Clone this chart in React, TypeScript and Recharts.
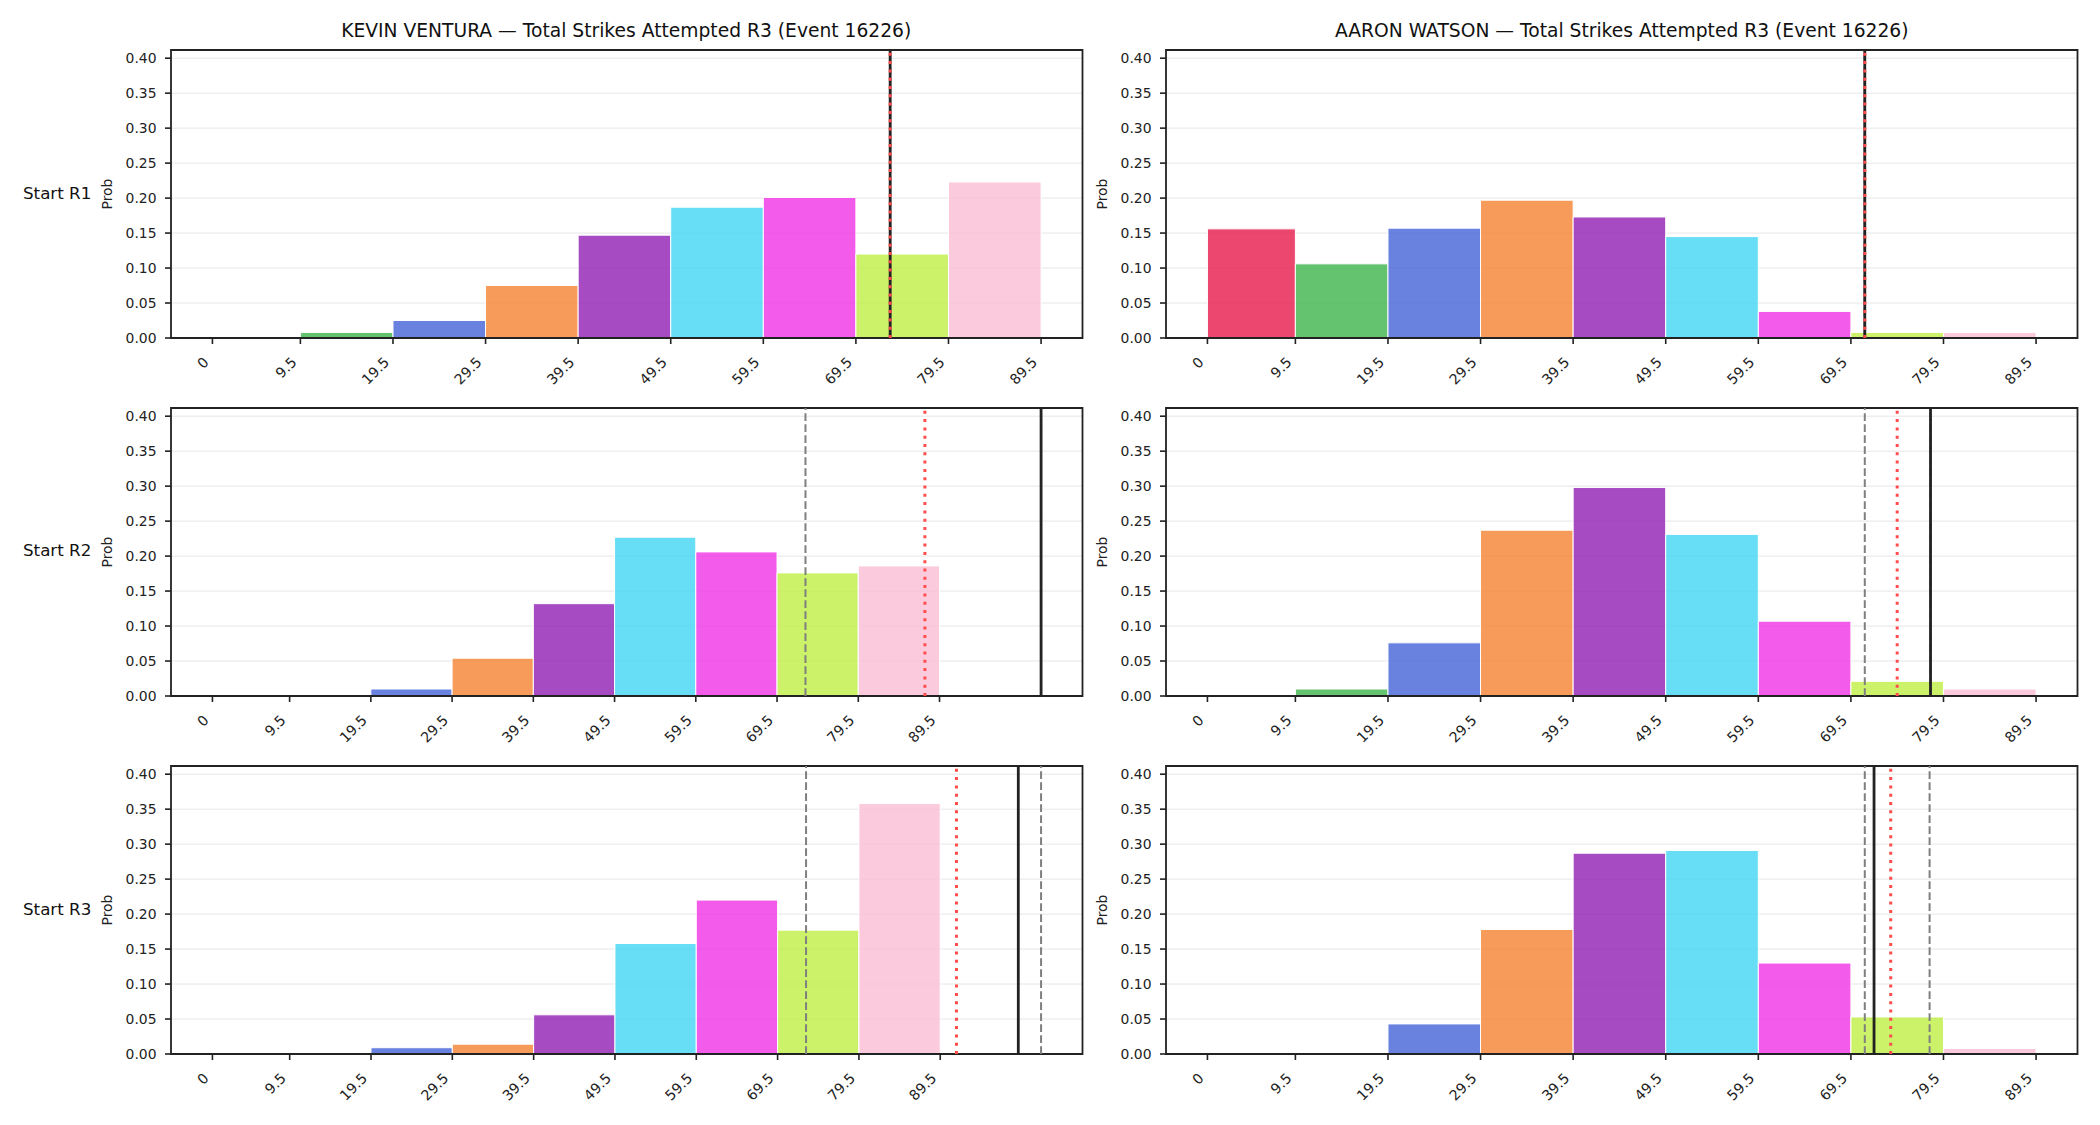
import {
  ComposedChart,
  XAxis,
  YAxis,
  CartesianGrid,
  ReferenceArea,
  ReferenceLine,
  Label,
} from 'recharts'

const FONT = '"DejaVu Sans", Verdana, sans-serif'
const INK = '#222222'

// histogram bins (strikes attempted) and their colours
const binEdges = [0, 9.5, 19.5, 29.5, 39.5, 49.5, 59.5, 69.5, 79.5, 89.5]
const binColors = [
  '#e6194b',
  '#3cb44b',
  '#4363d8',
  '#f58231',
  '#911eb4',
  '#42d4f4',
  '#f032e6',
  '#bfef45',
  '#fabed4',
]
const yTicks = [0, 0.05, 0.1, 0.15, 0.2, 0.25, 0.3, 0.35, 0.4]

const fighters = ['KEVIN VENTURA', 'AARON WATSON']
const startRounds = ['Start R1', 'Start R2', 'Start R3']

// probability per bin, one row per starting round
const venturaProbs = [
  [0, 0.008, 0.025, 0.075, 0.147, 0.187, 0.201, 0.12, 0.223],
  [0, 0, 0.01, 0.054, 0.132, 0.227, 0.206, 0.176, 0.186],
  [0, 0, 0.009, 0.014, 0.056, 0.158, 0.22, 0.177, 0.358],
]
const watsonProbs = [
  [0.156, 0.106, 0.157, 0.197, 0.173, 0.145, 0.038, 0.008, 0.008],
  [0, 0.01, 0.076, 0.237, 0.298, 0.231, 0.107, 0.021, 0.01],
  [0, 0, 0.043, 0.178, 0.287, 0.291, 0.13, 0.053, 0.008],
]

// marker lines: band low / high (dashed), projection (dotted), actual (solid)
const venturaLow = [73.2, 73.0, 73.0]
const venturaHigh = [73.2, 102.0, 101.9]
const venturaMean = [73.2, 87.7, 91.5]
const venturaActual = [73.2, 102.0, 99.1]
const watsonLow = [71.0, 71.0, 71.0]
const watsonHigh = [71.0, 78.1, 78.0]
const watsonMean = [71.0, 74.5, 73.8]
const watsonActual = [71.0, 78.1, 72.0]

const yMax = Math.max(...venturaProbs.flat(), ...watsonProbs.flat()) * 1.15

// layout of the 3x2 grid
const COL_X = [170.5, 1166]
const ROW_Y = [50, 407.5, 766.3]
const PLOT_W = 911.5
const PLOT_H = 288
const Y_AXIS_W = 100
const X_AXIS_H = 60
const PAD_T = 10
const PAD_R = 10

const fmtX = (v: number) => (v === 0 ? '0' : String(v))

const XTick = (props: any) => {
  const { x, y, payload } = props
  const px = x - 6.4
  const py = y + 15.5
  return (
    <text
      x={px}
      y={py}
      transform={`rotate(-45, ${px}, ${py})`}
      textAnchor="end"
      dominantBaseline="central"
      fontSize={14.2}
      fontFamily={FONT}
      fill={INK}>
      {fmtX(payload.value)}
    </text>
  )
}

const YTick = (props: any) => {
  const { x, y, payload } = props
  return (
    <text
      x={x - 8.5}
      y={y}
      textAnchor="end"
      dominantBaseline="central"
      fontSize={13.9}
      fontFamily={FONT}
      fill={INK}>
      {payload.value.toFixed(2)}
    </text>
  )
}

const ProbLabel = (props: any) => {
  const { viewBox } = props
  const cx = viewBox.x + viewBox.width - 64
  const cy = viewBox.y + viewBox.height / 2
  return (
    <text
      x={cx}
      y={cy}
      transform={`rotate(-90, ${cx}, ${cy})`}
      textAnchor="middle"
      dominantBaseline="central"
      fontSize={13.9}
      fontFamily={FONT}
      fill={INK}>
      Prob
    </text>
  )
}

type PanelProps = {
  probs: number[]
  low: number
  high: number
  mean: number
  actual: number
  left: number
  top: number
}

const Panel = ({ probs, low, high, mean, actual, left, top }: PanelProps) => {
  const xMax = Math.max(binEdges[binEdges.length - 1], low, high, mean, actual)
  const pad = xMax * 0.05
  const bins = probs.map((p, i) => ({
    x1: binEdges[i],
    x2: binEdges[i + 1],
    p,
    color: binColors[i],
  }))
  return (
    <div style={{ position: 'absolute', left: left - Y_AXIS_W, top: top - PAD_T }}>
      <ComposedChart
        width={Y_AXIS_W + PLOT_W + PAD_R}
        height={PAD_T + PLOT_H + X_AXIS_H}
        margin={{ top: PAD_T, right: PAD_R, bottom: 0, left: 0 }}
        data={bins}>
        <CartesianGrid vertical={false} stroke="#e6e6e6" strokeWidth={1} />
        <XAxis
          type="number"
          dataKey="x1"
          domain={[-pad, xMax + pad]}
          allowDataOverflow
          ticks={binEdges}
          interval={0}
          height={X_AXIS_H}
          axisLine={false}
          tickSize={6}
          tickMargin={0}
          tickLine={{ stroke: INK, strokeWidth: 1.6 }}
          tick={<XTick />}
        />
        <YAxis
          type="number"
          domain={[0, yMax]}
          allowDataOverflow
          ticks={yTicks}
          interval={0}
          width={Y_AXIS_W}
          axisLine={false}
          tickSize={6}
          tickMargin={0}
          tickLine={{ stroke: INK, strokeWidth: 1.6 }}
          tick={<YTick />}>
          <Label content={<ProbLabel />} />
        </YAxis>
        {bins
          .filter((b) => b.p > 0)
          .map((b) => (
            <ReferenceArea
              key={b.x1}
              x1={b.x1}
              x2={b.x2}
              y1={0}
              y2={b.p}
              fill={b.color}
              fillOpacity={0.8}
              stroke="#ffffff"
              strokeWidth={1}
              strokeOpacity={1}
            />
          ))}
        <ReferenceLine x={low} stroke="#7f7f7f" strokeWidth={2} strokeDasharray="7.7 3.3" />
        <ReferenceLine x={high} stroke="#7f7f7f" strokeWidth={2} strokeDasharray="7.7 3.3" />
        <ReferenceLine x={actual} stroke={INK} strokeWidth={2.8} />
        <ReferenceLine x={mean} stroke="#ff4d4d" strokeWidth={3} strokeDasharray="3 5.3" />
        {/* frame around the plot area */}
        <ReferenceArea
          x1={-pad}
          x2={xMax + pad}
          y1={0}
          y2={yMax}
          ifOverflow="visible"
          fill="none"
          fillOpacity={0}
          stroke={INK}
          strokeWidth={1.8}
          strokeOpacity={1}
        />
      </ComposedChart>
    </div>
  )
}

export default function App() {
  const sets = [
    { probs: venturaProbs, low: venturaLow, high: venturaHigh, mean: venturaMean, actual: venturaActual },
    { probs: watsonProbs, low: watsonLow, high: watsonHigh, mean: watsonMean, actual: watsonActual },
  ]
  return (
    <div
      style={{
        position: 'absolute',
        left: 0,
        top: 0,
        width: 2100,
        height: 1125,
        background: '#ffffff',
        overflow: 'hidden',
      }}>
      {sets.map((s, c) =>
        startRounds.map((_, r) => (
          <Panel
            key={`${c}-${r}`}
            probs={s.probs[r]}
            low={s.low[r]}
            high={s.high[r]}
            mean={s.mean[r]}
            actual={s.actual[r]}
            left={COL_X[c]}
            top={ROW_Y[r]}
          />
        ))
      )}
      <svg
        width={2100}
        height={1125}
        style={{ position: 'absolute', left: 0, top: 0, pointerEvents: 'none' }}>
        {fighters.map((name, c) => (
          <text
            key={name}
            x={COL_X[c] + PLOT_W / 2}
            y={37}
            textAnchor="middle"
            fontSize={18.7}
            fontFamily={FONT}
            fill="#111">
            {`${name} — Total Strikes Attempted R3 (Event 16226)`}
          </text>
        ))}
        {startRounds.map((label, r) => (
          <text
            key={label}
            x={23}
            y={ROW_Y[r] + PLOT_H / 2 - 1.5}
            dominantBaseline="central"
            fontSize={16.7}
            fontFamily={FONT}
            fill="#111">
            {label}
          </text>
        ))}
      </svg>
    </div>
  )
}
